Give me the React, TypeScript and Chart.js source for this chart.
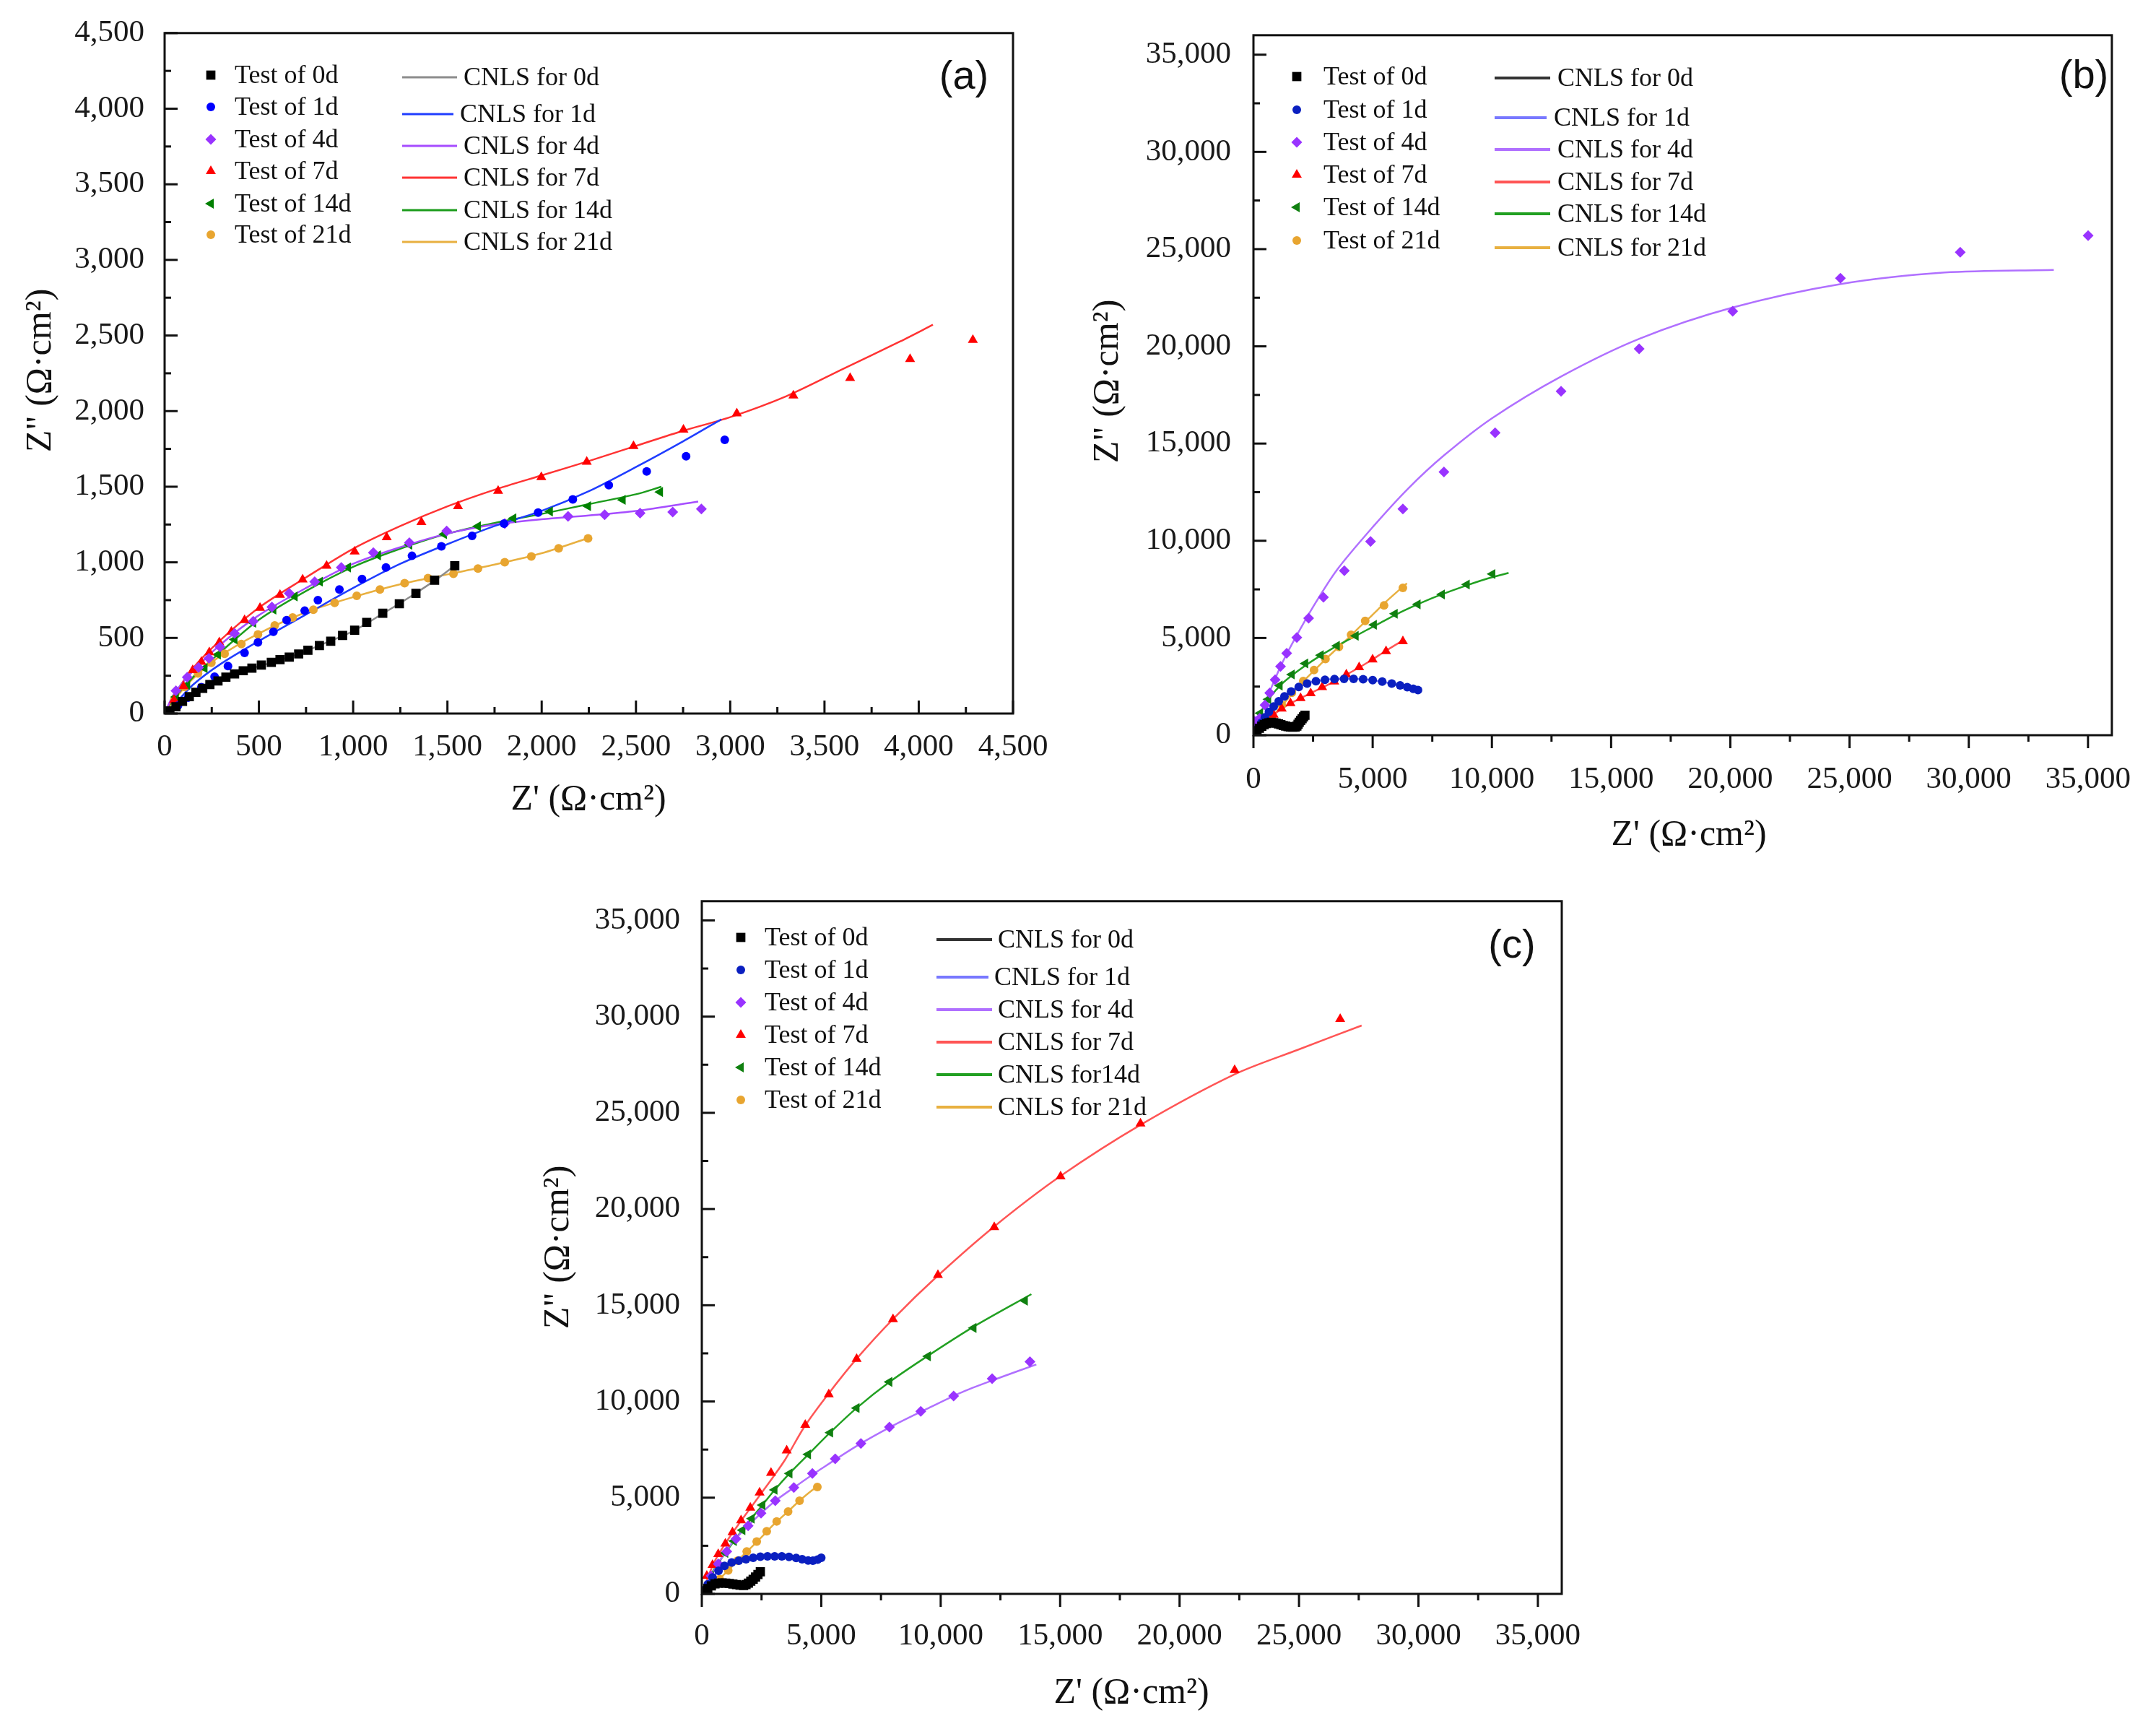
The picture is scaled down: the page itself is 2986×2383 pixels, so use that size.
import React, { useEffect, useRef, useState } from 'react';
import { Chart, registerables } from 'chart.js';
Chart.register(...registerables);

// ---------------- labels / ticks ----------------
const DAYS = ['0d', '1d', '4d', '7d', '14d', '21d'];
const TEST_LABELS = DAYS.map((d) => `Test of ${d}`);
const CNLS_LABELS_AB = DAYS.map((d) => `CNLS for ${d}`);
const CNLS_LABELS_C = ['CNLS for 0d', 'CNLS for 1d', 'CNLS for 4d', 'CNLS for 7d', 'CNLS for14d', 'CNLS for 21d'];
const TICKS_A = [0, 500, 1000, 1500, 2000, 2500, 3000, 3500, 4000, 4500];
const TICKS_BC = [0, 5000, 10000, 15000, 20000, 25000, 30000, 35000];
const X_TITLE = "Z' (Ω·cm²)";
const Y_TITLE = 'Z" (Ω·cm²)';

// ---------------- panel (a) data ----------------
const A_T0_X = [28, 60, 95, 131, 166, 202, 240, 283, 325, 371, 417, 463, 513, 566, 612, 661, 711, 760, 821, 881, 944, 1008, 1072, 1157, 1245, 1333, 1432, 1539];
const A_T0_Y = [17, 45, 80, 112, 140, 167, 192, 216, 241, 262, 283, 300, 321, 338, 356, 373, 394, 419, 450, 478, 516, 551, 603, 663, 726, 795, 882, 977];
const A_T1_X = [71, 124, 195, 265, 336, 424, 495, 577, 647, 743, 813, 927, 1047, 1174, 1312, 1468, 1631, 1800, 1981, 2165, 2356, 2557, 2766, 2971];
const A_T1_Y = [52, 105, 174, 244, 314, 401, 471, 541, 617, 680, 750, 820, 889, 966, 1043, 1106, 1175, 1256, 1329, 1416, 1510, 1601, 1702, 1810];
const A_T4_X = [60, 120, 180, 235, 294, 371, 470, 569, 661, 796, 937, 1107, 1298, 1496, 1804, 2140, 2334, 2522, 2695, 2847];
const A_T4_Y = [150, 240, 305, 365, 440, 530, 610, 705, 795, 872, 966, 1064, 1130, 1207, 1256, 1304, 1315, 1325, 1332, 1353];
const A_T7_X = [50, 100, 149, 195, 237, 290, 354, 424, 506, 612, 732, 859, 1008, 1178, 1362, 1556, 1769, 1998, 2239, 2487, 2752, 3035, 3335, 3636, 3954, 4287];
const A_T7_Y = [90, 180, 286, 342, 405, 471, 541, 617, 698, 785, 886, 977, 1071, 1165, 1266, 1371, 1472, 1563, 1664, 1768, 1877, 1985, 2103, 2218, 2344, 2470];
const A_T14_X = [60, 120, 212, 283, 371, 470, 577, 690, 824, 973, 1132, 1298, 1482, 1662, 1850, 2044, 2246, 2430, 2628];
const A_T14_Y = [110, 190, 300, 390, 490, 600, 687, 774, 872, 966, 1046, 1116, 1186, 1238, 1291, 1336, 1371, 1413, 1465];
const A_T21_X = [53, 106, 177, 248, 318, 407, 495, 584, 679, 789, 902, 1019, 1142, 1273, 1397, 1532, 1662, 1804, 1945, 2090, 2246];
const A_T21_Y = [95, 175, 265, 335, 395, 460, 523, 583, 635, 687, 732, 778, 820, 862, 896, 924, 959, 1001, 1039, 1092, 1158];

const A_F0_X = [0, 40, 100, 180, 280, 400, 550, 700, 850, 1000, 1150, 1300, 1450, 1540];
const A_F0_Y = [0, 28, 85, 150, 215, 275, 330, 390, 465, 545, 655, 770, 895, 980];
const A_F1_X = [0, 60, 150, 300, 500, 750, 1000, 1250, 1500, 1750, 2000, 2250, 2500, 2750, 2953];
const A_F1_Y = [0, 70, 190, 330, 480, 655, 830, 990, 1120, 1240, 1340, 1470, 1630, 1800, 1946];
const A_F4_X = [0, 50, 150, 300, 500, 750, 1000, 1250, 1500, 1750, 2000, 2250, 2500, 2830];
const A_F4_Y = [0, 130, 280, 460, 650, 830, 990, 1100, 1190, 1250, 1285, 1310, 1340, 1402];
const A_F7_X = [0, 50, 150, 300, 500, 750, 1000, 1250, 1500, 1750, 2000, 2250, 2500, 2750, 3000, 3300, 3600, 3900, 4075];
const A_F7_Y = [0, 120, 300, 490, 700, 900, 1090, 1240, 1370, 1480, 1575, 1670, 1770, 1870, 1960, 2100, 2280, 2460, 2571];
const A_F14_X = [0, 50, 150, 300, 500, 750, 1000, 1250, 1500, 1750, 2000, 2250, 2500, 2635];
const A_F14_Y = [0, 100, 240, 410, 620, 810, 970, 1090, 1190, 1260, 1320, 1385, 1450, 1500];
const A_F21_X = [0, 50, 150, 300, 500, 750, 1000, 1250, 1500, 1750, 2000, 2264];
const A_F21_Y = [0, 90, 230, 385, 530, 670, 770, 855, 920, 985, 1060, 1168];

// ---------------- panel (b) data ----------------
const B_T0_X = [60, 150, 250, 350, 450, 550, 650, 750, 850, 950, 1050, 1150, 1250, 1350, 1450, 1550, 1650, 1750, 1820, 1870, 1920, 1980, 2040, 2100, 2160];
const B_T0_Y = [90, 230, 360, 460, 540, 600, 640, 660, 650, 620, 580, 540, 500, 470, 440, 420, 410, 420, 470, 560, 660, 760, 850, 940, 1030];
const B_T1_X = [100, 200, 330, 480, 650, 850, 1060, 1300, 1580, 1900, 2250, 2620, 3000, 3400, 3800, 4200, 4600, 5000, 5400, 5800, 6150, 6450, 6700, 6900];
const B_T1_Y = [180, 380, 640, 920, 1200, 1480, 1750, 2000, 2250, 2480, 2660, 2780, 2850, 2890, 2900, 2900, 2880, 2830, 2760, 2660, 2560, 2470, 2390, 2320];
const B_T4_X = [56, 258, 485, 682, 909, 1136, 1394, 1818, 2315, 2936, 3811, 4912, 6267, 7989, 10135, 12901, 16176, 20100, 24617, 29641, 35006];
const B_T4_Y = [710, 868, 1550, 2170, 2852, 3534, 4216, 5022, 6019, 7098, 8460, 9965, 11640, 13542, 15558, 17687, 19873, 21803, 23507, 24841, 25693];
const B_T7_X = [226, 508, 847, 1186, 1553, 1976, 2400, 2880, 3388, 3896, 4432, 4997, 5561, 6267];
const B_T7_Y = [341, 710, 1050, 1363, 1647, 1902, 2158, 2470, 2754, 3123, 3492, 3889, 4315, 4826];
const B_T14_X = [56, 282, 621, 1101, 1609, 2174, 2823, 3500, 4291, 5053, 5928, 6888, 7904, 8949, 10022];
const B_T14_Y = [511, 1136, 1845, 2555, 3123, 3691, 4116, 4599, 5110, 5678, 6246, 6728, 7240, 7751, 8290];
const B_T21_X = [395, 762, 1186, 1609, 2089, 2541, 3021, 3585, 4094, 4686, 5477, 6267];
const B_T21_Y = [483, 965, 1561, 2186, 2782, 3350, 3918, 4542, 5167, 5877, 6672, 7580];

const B_F0_X = [0, 100, 300, 500, 700, 900, 1100, 1300, 1500, 1700, 1800, 1900, 2000, 2100, 2200];
const B_F0_Y = [0, 160, 420, 580, 650, 640, 570, 490, 440, 410, 440, 650, 780, 910, 1050];
const B_F1_X = [0, 300, 700, 1200, 1800, 2500, 3200, 4000, 4800, 5600, 6300, 6900];
const B_F1_Y = [0, 570, 1280, 1940, 2420, 2760, 2880, 2910, 2860, 2700, 2500, 2330];
const B_F4_X = [0, 300, 700, 1200, 1800, 2500, 3500, 5000, 6500, 8000, 10000, 12900, 16200, 20100, 24600, 29000, 33565];
const B_F4_Y = [0, 1100, 2300, 3700, 5100, 6600, 8500, 10700, 12700, 14400, 16300, 18450, 20400, 22000, 23200, 23800, 23933];
const B_F7_X = [0, 500, 1000, 1500, 2000, 2500, 3000, 3500, 4000, 4500, 5000, 5500, 6300];
const B_F7_Y = [0, 720, 1200, 1600, 1920, 2220, 2520, 2820, 3180, 3530, 3900, 4300, 4900];
const B_F14_X = [0, 300, 700, 1200, 1800, 2500, 3300, 4200, 5200, 6300, 7500, 8700, 9800, 10700];
const B_F14_Y = [0, 1150, 1950, 2650, 3250, 3850, 4450, 5050, 5700, 6400, 7050, 7600, 8050, 8350];
const B_F21_X = [0, 500, 1000, 1500, 2000, 2500, 3000, 3500, 4000, 4500, 5000, 5500, 6000, 6436];
const B_F21_Y = [0, 600, 1250, 1950, 2650, 3270, 3880, 4450, 5020, 5620, 6200, 6800, 7350, 7807];

// ---------------- panel (c) data ----------------
const C_T0_X = [100, 250, 400, 550, 700, 850, 1000, 1150, 1300, 1450, 1600, 1750, 1850, 1950, 2050, 2150, 2250, 2350, 2450];
const C_T0_Y = [120, 280, 420, 520, 560, 570, 560, 540, 510, 480, 450, 440, 480, 560, 660, 760, 880, 1010, 1150];
const C_T1_X = [100, 250, 450, 700, 950, 1250, 1550, 1850, 2150, 2450, 2750, 3050, 3350, 3650, 3950, 4200, 4450, 4650, 4850, 5000];
const C_T1_Y = [200, 500, 850, 1200, 1450, 1630, 1730, 1800, 1880, 1930, 1950, 1950, 1950, 1920, 1870, 1800, 1740, 1730, 1780, 1880];
const C_T4_X = [388, 687, 1045, 1433, 1941, 2478, 3076, 3852, 4628, 5584, 6659, 7853, 9167, 10541, 12153, 13736];
const C_T4_Y = [935, 1558, 2209, 2860, 3540, 4191, 4843, 5522, 6259, 7023, 7816, 8666, 9487, 10280, 11186, 12064];
const C_T7_X = [209, 448, 687, 985, 1284, 1642, 2030, 2419, 2896, 3553, 4330, 5315, 6480, 8003, 9884, 12242, 15019, 18364, 22306, 26724];
const C_T7_Y = [935, 1501, 2067, 2605, 3200, 3823, 4475, 5268, 6287, 7448, 8779, 10365, 12206, 14273, 16568, 19060, 21693, 24440, 27216, 29878];
const C_T14_X = [388, 687, 985, 1344, 1702, 2090, 2538, 3046, 3673, 4449, 5375, 6480, 7853, 9466, 11376, 13527];
const C_T14_Y = [935, 1501, 2124, 2747, 3313, 3908, 4616, 5409, 6259, 7250, 8383, 9657, 11017, 12348, 13820, 15236];
const C_T21_X = [448, 747, 1105, 1493, 1881, 2299, 2717, 3135, 3613, 4091, 4837];
const C_T21_Y = [425, 765, 1218, 1728, 2209, 2719, 3257, 3767, 4276, 4843, 5551];

const C_F0_X = [0, 200, 400, 600, 800, 1000, 1200, 1400, 1600, 1800, 1900, 2000, 2200, 2450];
const C_F0_Y = [0, 240, 420, 540, 570, 560, 530, 490, 450, 440, 500, 600, 820, 1150];
const C_F1_X = [0, 300, 700, 1200, 1800, 2400, 3000, 3600, 4200, 4600, 5000];
const C_F1_Y = [0, 600, 1200, 1620, 1820, 1930, 1960, 1930, 1800, 1730, 1880];
const C_F4_X = [0, 500, 1200, 2000, 3000, 4000, 5000, 6500, 8000, 9500, 11000, 12500, 14004];
const C_F4_Y = [0, 1180, 2550, 3620, 4760, 5650, 6500, 7700, 8740, 9660, 10540, 11250, 11923];
const C_F7_X = [0, 500, 1000, 1500, 2000, 2500, 3000, 3500, 4300, 5300, 6500, 8000, 9900, 12200, 15000, 18400, 22300, 25000, 27621];
const C_F7_Y = [0, 1600, 2650, 3550, 4400, 5250, 6100, 7000, 8700, 10400, 12250, 14280, 16560, 19050, 21700, 24400, 27000, 28300, 29538];
const C_F14_X = [0, 500, 1000, 1500, 2000, 2500, 3000, 3700, 4500, 5400, 6500, 7900, 9500, 11400, 13796];
const C_F14_Y = [0, 1250, 2150, 3000, 3800, 4560, 5330, 6300, 7300, 8420, 9680, 11050, 12400, 13900, 15576];
const C_F21_X = [0, 500, 1000, 1500, 2000, 2500, 3000, 3500, 4000, 4500, 4927];
const C_F21_Y = [0, 500, 1090, 1730, 2330, 2950, 3600, 4160, 4740, 5270, 5664];

// ---------------- styles ----------------
const MARKER_STYLES = ['rect', 'circle', 'diamond', 'triangle', 'triLeft', 'circle'];
const MARKER_RADII = [9, 6, 7.5, 8, 8, 6];
const MARKER_COLORS_A = ['#000000', '#0000ff', '#9933ff', '#ff0000', '#008000', '#e8a530'];
const LINE_COLORS_A = ['#8c8c8c', '#1f3dff', '#a64dff', '#ff3333', '#1c9c1c', '#e8b040'];
const MARKER_COLORS_BC = ['#000000', '#0a1fc0', '#9933ff', '#ff0000', '#108010', '#e8a530'];
const LINE_COLORS_BC = ['#333333', '#7878ff', '#b070ff', '#ff5555', '#22a022', '#e8b040'];
const LEGEND_ROW_SHIFT = [0, -5, 0, 0, 0, 0];

const SERIF = "'Liberation Serif', 'Times New Roman', serif";
const SANS = "'Liberation Sans', Arial, sans-serif";

const pairs = (xs: number[], ys: number[]) => xs.map((x, i) => ({ x, y: ys[i] }));

const PANELS: any[] = [
  {
    left: 0, top: 0, w: 1480, h: 1160,
    plotLeft: 228, plotTop: 42, plotRight: 1403, plotBottom: 988,
    max: 4500, ticks: TICKS_A, minor: 250, xTickOut: false, xPad: 13, yPad: 20,
    tests: [[A_T0_X, A_T0_Y], [A_T1_X, A_T1_Y], [A_T4_X, A_T4_Y], [A_T7_X, A_T7_Y], [A_T14_X, A_T14_Y], [A_T21_X, A_T21_Y]],
    fits: [[A_F0_X, A_F0_Y], [A_F1_X, A_F1_Y], [A_F4_X, A_F4_Y], [A_F7_X, A_F7_Y], [A_F14_X, A_F14_Y], [A_F21_X, A_F21_Y]],
    cnlsLabels: CNLS_LABELS_AB, markerColors: MARKER_COLORS_A, lineColors: LINE_COLORS_A, legendLineWidth: 3,
    xTitle: [815, 1108], yTitle: [57, 513], panel: '(a)', panelPos: [1335, 108],
    legMarkerX: 292, legTextX: 325, legRows: [104, 148, 193, 237, 282, 325],
    legLineX1: 557, legLineX2: 633, legLineTextX: 642, legLineRows: [107, 158, 202, 246, 291, 335],
  },
  {
    left: 1480, top: 0, w: 1500, h: 1200,
    plotLeft: 256, plotTop: 46, plotRight: 1462, plotBottom: 1018,
    max: 36000, ticks: TICKS_BC, minor: 2500, xTickOut: true, xPad: 28, yPad: 23,
    tests: [[B_T0_X, B_T0_Y], [B_T1_X, B_T1_Y], [B_T4_X, B_T4_Y], [B_T7_X, B_T7_Y], [B_T14_X, B_T14_Y], [B_T21_X, B_T21_Y]],
    fits: [[B_F0_X, B_F0_Y], [B_F1_X, B_F1_Y], [B_F4_X, B_F4_Y], [B_F7_X, B_F7_Y], [B_F14_X, B_F14_Y], [B_F21_X, B_F21_Y]],
    cnlsLabels: CNLS_LABELS_AB, markerColors: MARKER_COLORS_BC, lineColors: LINE_COLORS_BC, legendLineWidth: 4,
    xTitle: [859, 1157], yTitle: [55, 528], panel: '(b)', panelPos: [1406, 107],
    legMarkerX: 316, legTextX: 353, legRows: [106, 152, 197, 242, 287, 333],
    legLineX1: 590, legLineX2: 667, legLineTextX: 677, legLineRows: [108, 163, 207, 252, 296, 343],
  },
  {
    left: 700, top: 1200, w: 1560, h: 1180,
    plotLeft: 272, plotTop: 47, plotRight: 1463, plotBottom: 1007,
    max: 36000, ticks: TICKS_BC, minor: 2500, xTickOut: true, xPad: 25, yPad: 22,
    tests: [[C_T0_X, C_T0_Y], [C_T1_X, C_T1_Y], [C_T4_X, C_T4_Y], [C_T7_X, C_T7_Y], [C_T14_X, C_T14_Y], [C_T21_X, C_T21_Y]],
    fits: [[C_F0_X, C_F0_Y], [C_F1_X, C_F1_Y], [C_F4_X, C_F4_Y], [C_F7_X, C_F7_Y], [C_F14_X, C_F14_Y], [C_F21_X, C_F21_Y]],
    cnlsLabels: CNLS_LABELS_C, markerColors: MARKER_COLORS_BC, lineColors: LINE_COLORS_BC, legendLineWidth: 4,
    xTitle: [867, 1145], yTitle: [74, 527], panel: '(c)', panelPos: [1394, 111],
    legMarkerX: 326, legTextX: 359, legRows: [98, 143, 188, 233, 278, 323],
    legLineX1: 597, legLineX2: 674, legLineTextX: 682, legLineRows: [101, 153, 198, 243, 288, 333],
  },
];

function drawMarker(ctx: CanvasRenderingContext2D, style: string, x: number, y: number, r: number, color: string) {
  ctx.fillStyle = color;
  ctx.beginPath();
  if (style === 'rect') {
    const s = r * Math.SQRT1_2;
    ctx.rect(x - s, y - s, 2 * s, 2 * s);
  } else if (style === 'circle') {
    ctx.arc(x, y, r, 0, Math.PI * 2);
  } else if (style === 'diamond') {
    ctx.moveTo(x, y - r); ctx.lineTo(x + r, y); ctx.lineTo(x, y + r); ctx.lineTo(x - r, y);
  } else if (style === 'triangle') {
    ctx.moveTo(x, y - r);
    ctx.lineTo(x + r * 0.866, y + r * 0.5);
    ctx.lineTo(x - r * 0.866, y + r * 0.5);
  } else {
    ctx.moveTo(x - r, y);
    ctx.lineTo(x + r * 0.5, y - r * 0.866);
    ctx.lineTo(x + r * 0.5, y + r * 0.866);
  }
  ctx.closePath();
  ctx.fill();
}

function makeDecor(p: any) {
  return {
    id: 'decor',
    afterDraw(chart: any) {
      const ctx = chart.ctx;
      const a = chart.chartArea;
      const xs = chart.scales.x;
      const ys = chart.scales.y;
      ctx.save();
      ctx.strokeStyle = '#111';
      ctx.lineWidth = 3;
      for (let v = 0; v <= p.max + 1e-6; v += p.minor) {
        const major = p.ticks.indexOf(v) >= 0;
        const len = major ? 18 : 9;
        const px = xs.getPixelForValue(v);
        const dir = p.xTickOut ? 1 : -1;
        ctx.beginPath();
        ctx.moveTo(px, a.bottom);
        ctx.lineTo(px, a.bottom + dir * len);
        ctx.stroke();
        const py = ys.getPixelForValue(v);
        ctx.beginPath();
        ctx.moveTo(a.left, py);
        ctx.lineTo(a.left + len, py);
        ctx.stroke();
      }
      ctx.strokeRect(a.left, a.top, a.right - a.left, a.bottom - a.top);

      ctx.fillStyle = '#111';
      ctx.font = `50px ${SERIF}`;
      ctx.textAlign = 'center';
      ctx.textBaseline = 'middle';
      ctx.fillText(X_TITLE, p.xTitle[0], p.xTitle[1]);
      ctx.save();
      ctx.translate(p.yTitle[0], p.yTitle[1]);
      ctx.rotate(-Math.PI / 2);
      ctx.fillText(Y_TITLE, 0, 0);
      ctx.restore();

      ctx.font = `56px ${SANS}`;
      ctx.fillText(p.panel, p.panelPos[0], p.panelPos[1]);

      ctx.font = `36px ${SERIF}`;
      ctx.textAlign = 'left';
      ctx.textBaseline = 'middle';
      for (let i = 0; i < DAYS.length; i++) {
        const ry = p.legRows[i];
        drawMarker(ctx, MARKER_STYLES[i], p.legMarkerX, ry, MARKER_RADII[i], p.markerColors[i]);
        ctx.fillStyle = '#111';
        ctx.fillText(TEST_LABELS[i], p.legTextX, ry + 2);
        const ly = p.legLineRows[i];
        const sh = LEGEND_ROW_SHIFT[i];
        ctx.strokeStyle = p.lineColors[i];
        ctx.lineWidth = p.legendLineWidth;
        ctx.beginPath();
        ctx.moveTo(p.legLineX1, ly);
        ctx.lineTo(p.legLineX2 + sh, ly);
        ctx.stroke();
        ctx.fillStyle = '#111';
        ctx.fillText(p.cnlsLabels[i], p.legLineTextX + sh, ly + 2);
      }
      ctx.restore();
    },
  };
}

function buildConfig(p: any): any {
  const markerSets = p.tests.map((t: number[][], i: number) => ({
    label: TEST_LABELS[i],
    data: pairs(t[0], t[1]),
    showLine: false,
    pointStyle: MARKER_STYLES[i] === 'diamond' ? 'rectRot' : MARKER_STYLES[i] === 'triLeft' ? 'triangle' : MARKER_STYLES[i],
    pointRotation: MARKER_STYLES[i] === 'triLeft' ? -90 : 0,
    pointRadius: MARKER_RADII[i],
    pointBorderWidth: 0,
    backgroundColor: p.markerColors[i],
    borderColor: p.markerColors[i],
  }));
  const lineSets = p.fits.map((t: number[][], i: number) => ({
    label: p.cnlsLabels[i],
    data: pairs(t[0], t[1]),
    showLine: true,
    pointRadius: 0,
    borderColor: p.lineColors[i],
    backgroundColor: p.lineColors[i],
    borderWidth: 2.5,
    tension: 0.3,
    fill: false,
  }));
  const tickFont = { family: SERIF, size: 43, lineHeight: 1.2 };
  const fmt = (v: any) => Number(v).toLocaleString('en-US');
  return {
    type: 'scatter',
    data: { datasets: [...markerSets, ...lineSets] },
    options: {
      responsive: false,
      animation: false,
      devicePixelRatio: 1,
      layout: { padding: { left: 0, top: p.plotTop, right: p.w - p.plotRight, bottom: 0 } },
      plugins: { legend: { display: false }, tooltip: { enabled: false } },
      scales: {
        x: {
          type: 'linear', position: 'bottom', min: 0, max: p.max,
          afterBuildTicks: (s: any) => { s.ticks = p.ticks.map((v: number) => ({ value: v })); },
          afterFit: (s: any) => { s.height = p.h - p.plotBottom; },
          grid: { display: false },
          border: { display: false },
          ticks: { autoSkip: false, maxRotation: 0, minRotation: 0, padding: p.xPad, font: tickFont, color: '#1a1a1a', callback: fmt },
        },
        y: {
          type: 'linear', position: 'left', min: 0, max: p.max,
          afterBuildTicks: (s: any) => { s.ticks = p.ticks.map((v: number) => ({ value: v })); },
          afterFit: (s: any) => { s.width = p.plotLeft; },
          grid: { display: false },
          border: { display: false },
          ticks: { autoSkip: false, padding: p.yPad, font: tickFont, color: '#1a1a1a', callback: fmt },
        },
      },
    },
    plugins: [makeDecor(p)],
  };
}

function Panel({ cfg }: { cfg: any }) {
  const ref = useRef<HTMLCanvasElement>(null);
  const [err, setErr] = useState('');
  useEffect(() => {
    let chart: any = null;
    try {
      chart = new Chart(ref.current as HTMLCanvasElement, buildConfig(cfg));
    } catch (e: any) {
      setErr(String(e && e.stack ? e.stack : e));
    }
    return () => { if (chart) chart.destroy(); };
  }, []);
  return (
    <>
      <canvas
        ref={ref}
        width={cfg.w}
        height={cfg.h}
        style={{ position: 'absolute', left: cfg.left, top: cfg.top, width: cfg.w, height: cfg.h }}
      />
      {err ? <div style={{ position: 'absolute', left: cfg.left, top: cfg.top + 300, fontSize: 30, width: 1400 }}>{err}</div> : null}
    </>
  );
}

export default function App() {
  return (
    <div>
      {PANELS.map((p: any) => (
        <Panel key={p.panel} cfg={p} />
      ))}
    </div>
  );
}
